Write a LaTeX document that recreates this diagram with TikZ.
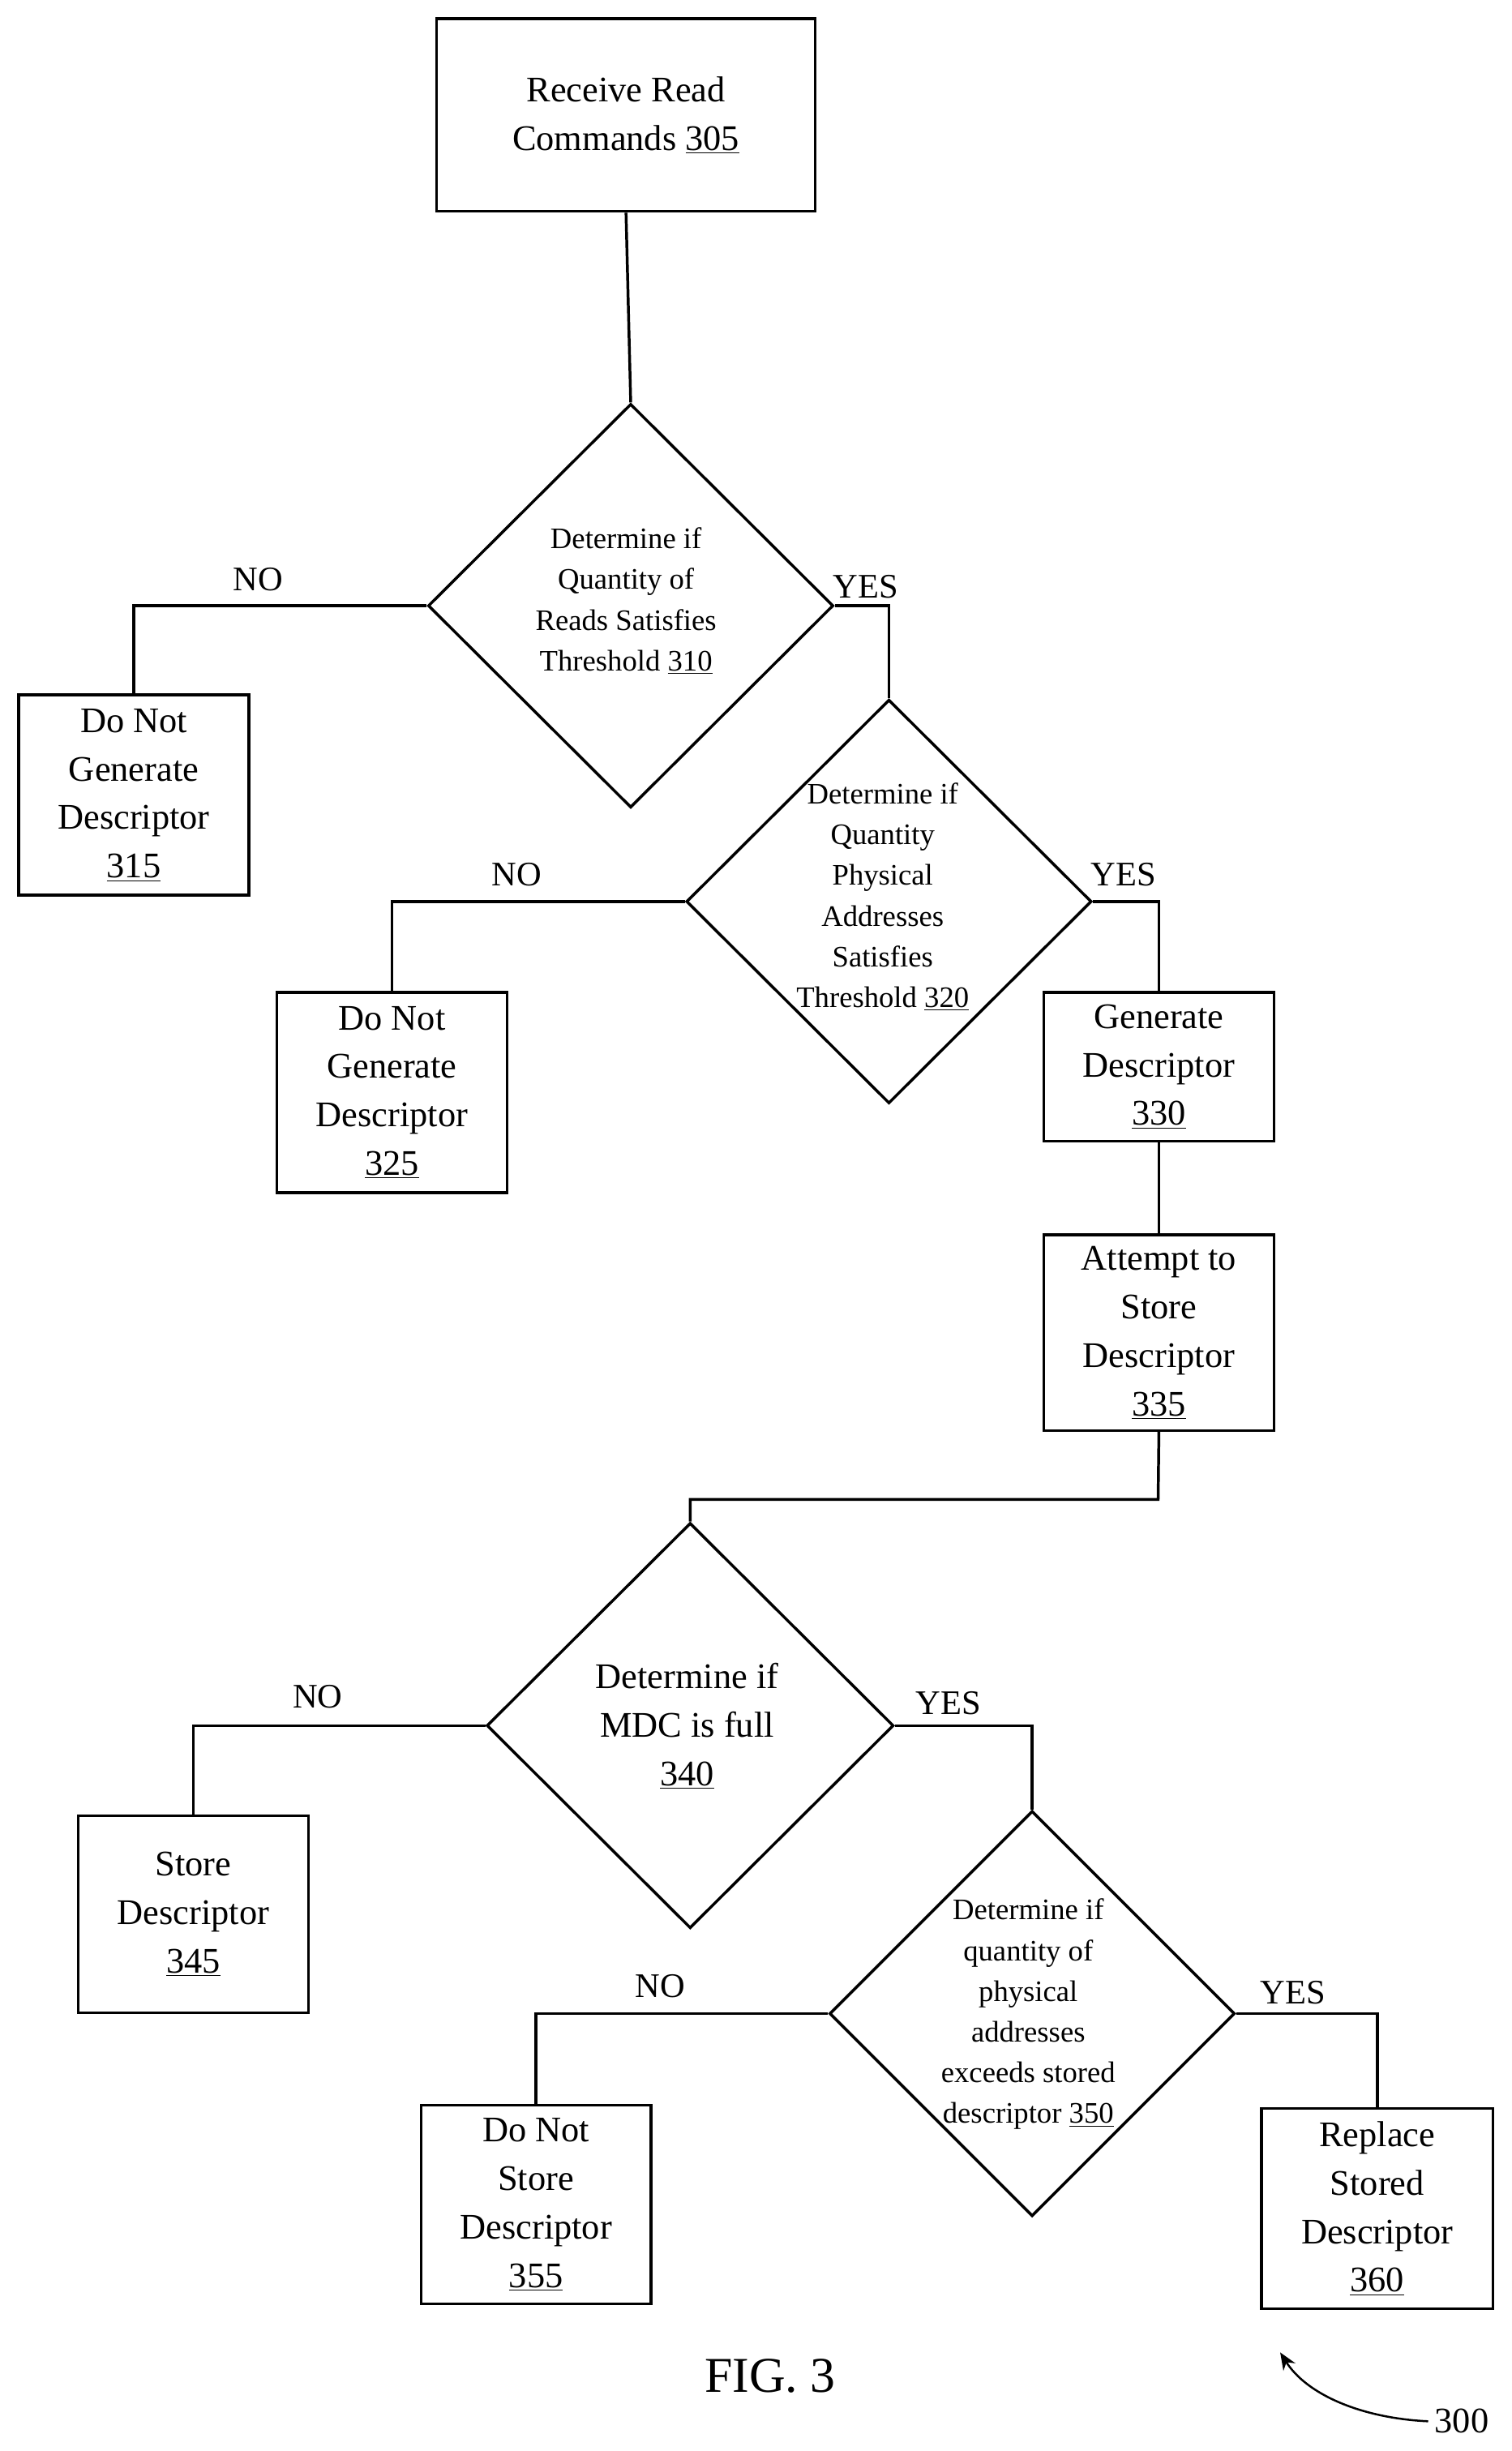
\documentclass[tikz,border=0pt]{standalone}
\usepackage{fontspec}
\setmainfont{Liberation Serif}
\usetikzlibrary{shapes.geometric,arrows.meta}
\begin{document}
\begin{tikzpicture}[x=1pt,y=-1pt,line width=1.8pt,
  box/.style={draw,rectangle,inner sep=0,align=center,font=\fontsize{23}{31}\selectfont},
  dia/.style={draw,diamond,inner sep=0,minimum width=259pt,minimum height=258pt},
  dtext/.style={align=center,font=\fontsize{19}{26}\selectfont},
  lab/.style={font=\fontsize{22}{26}\selectfont}]
\useasboundingbox (0,0) rectangle (966,1566);
\node[box,minimum width=242pt,minimum height=123pt] (b305) at (400,73.5) {Receive Read\\Commands \underline{305}};
\node[dia] (d310) at (403,387) {};
\node[dtext] (t310) at (400,384) {Determine if\\Quantity of\\Reads Satisfies\\Threshold \underline{310}};
\node[box,minimum width=147pt,minimum height=128pt] (b315) at (85.5,508) {Do Not\\Generate\\Descriptor\\\underline{315}};
\node[dia] (d320) at (568,576) {};
\node[dtext] (t320) at (564,573) {Determine if\\Quantity\\Physical\\Addresses\\Satisfies\\Threshold \underline{320}};
\node[box,minimum width=147pt,minimum height=128pt] (b325) at (250.5,698) {Do Not\\Generate\\Descriptor\\\underline{325}};
\node[box,minimum width=147pt,minimum height=95pt] (b330) at (740.5,681.5) {Generate\\Descriptor\\\underline{330}};
\node[box,minimum width=147pt,minimum height=125pt] (b335) at (740.5,851.5) {Attempt to\\Store\\Descriptor\\\underline{335}};
\node[dia,minimum width=260pt,minimum height=259pt] (d340) at (441,1102.5) {};
\node[box,draw=none] (t340) at (439,1103) {Determine if\\MDC is full\\\underline{340}};
\node[box,minimum width=147pt,minimum height=126pt] (b345) at (123.5,1223) {Store\\Descriptor\\\underline{345}};
\node[dia,minimum width=259pt,minimum height=259pt] (d350) at (659.5,1286.5) {};
\node[dtext] (t350) at (657,1287) {Determine if\\quantity of\\physical\\addresses\\exceeds stored\\descriptor \underline{350}};
\node[box,minimum width=147pt,minimum height=127pt] (b355) at (342.5,1408.5) {Do Not\\Store\\Descriptor\\\underline{355}};
\node[box,minimum width=148pt,minimum height=128pt] (b360) at (880,1411) {Replace\\Stored\\Descriptor\\\underline{360}};
\draw (b305.south) -- (d310.north);
\draw (d310.west) -| (b315.north);
\draw (d310.east) -| (d320.north);
\draw (d320.west) -| (b325.north);
\draw (d320.east) -| (b330.north);
\draw (b330) -- (b335);
\coordinate (m) at (740,958);
\draw (b335.south) -- (m) -| (d340.north);
\draw (d340.west) -| (b345.north);
\draw (d340.east) -| (d350.north);
\draw (d350.west) -| (b355.north);
\draw (d350.east) -| (b360.north);
\node[lab] (n1) at (165,370) {NO};
\node[lab] (y1) at (553,375) {YES};
\node[lab] (n2) at (330,559) {NO};
\node[lab] (y2) at (718,559) {YES};
\node[lab] (n3) at (203,1084) {NO};
\node[lab] (y3) at (606,1088) {YES};
\node[lab] (n4) at (422,1269) {NO};
\node[lab] (y4) at (826,1273) {YES};
\node[font=\fontsize{32}{36}\selectfont] (fig) at (492,1518) {FIG. 3};
\node[font=\fontsize{23}{26}\selectfont] (n300) at (934,1547) {300};
\draw[line width=1.3pt,-{Stealth[length=11pt,width=9pt]}] (n300.west) .. controls (870,1545) and (835,1530) .. (818,1503);
\end{tikzpicture}
\end{document}
